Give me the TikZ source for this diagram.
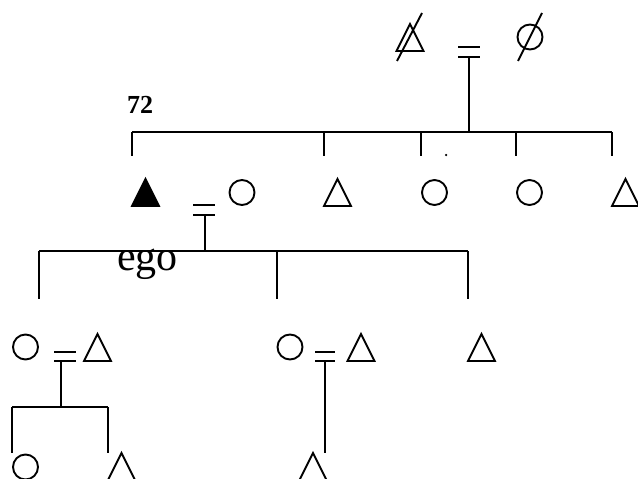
\documentclass[tikz,border=0pt]{standalone}
\usepackage{fontspec}
\setmainfont{Liberation Serif}
\begin{document}
\begin{tikzpicture}[x=1pt,y=-1pt,line width=1.9pt,
  trinode/.style={rectangle,inner sep=0pt,minimum width=25pt,minimum height=25pt},
  circnode/.style={circle,draw,inner sep=0pt,minimum size=25pt},
  link/.style={line width=1.9pt}]
\useasboundingbox (0,0) rectangle (638,479);

% ---- generation 0 (deceased parents)
\node[trinode] (gf) at (410,37.5) {};
\node[circnode] (gm) at (530,37) {};
\draw[link] (gf.center) ++(-13,23.5) -- ++(25,-48);
\draw[link] (gm.center) ++(-12,24) -- ++(24,-48);
\coordinate (m0) at (469,52);
\draw[link] (m0) ++(-11,-5) -- ++(22,0);
\draw[link] (m0) ++(-11,5) -- ++(22,0);
\coordinate (bar0) at (469,132);
\draw[link] (m0) ++(0,5) -- (bar0);

% ---- generation 1
\node[trinode] (a1) at (145.5,192.5) {};
\node[circnode] (a2) at (242,192.5) {};
\node[trinode] (a3) at (337.5,192.5) {};
\node[circnode] (a4) at (434.5,192.5) {};
\node[circnode] (a5) at (529.5,192.5) {};
\node[trinode] (a6) at (625.5,192.5) {};
\draw[link] (bar0 -| a1.west) -- (bar0 -| a6.west);
\foreach \n in {a1,a3,a4,a5,a6} \draw[link] (bar0 -| \n.west) -- ++(0,24);
\node[circle,fill,inner sep=0pt,minimum size=2.5pt] (dot) at (446,155) {};
\node[font=\bfseries\fontsize{26}{30}\selectfont,anchor=base,inner sep=0pt] (n72) at (140,113) {72};

% ego marriage
\coordinate (m1) at (205,210);
\draw[link] (m1) ++(-12,-5) -- ++(22,0);
\draw[link] (m1) ++(-12,5) -- ++(22,0);
\coordinate (bar1) at (205,251);
\draw[link] (m1) ++(0,5) -- (bar1);

% ---- generation 2
\node[circnode] (c1) at (25.5,347) {};
\node[trinode] (c2) at (97.5,347.5) {};
\node[circnode] (c4) at (290,347) {};
\node[trinode] (c5) at (361,347.5) {};
\node[trinode] (c6) at (481.5,347.5) {};
\draw[link] (bar1 -| c1.east) -- (bar1 -| c6.west);
\foreach \n in {c1.east,c4.west,c6.west} \draw[link] (bar1 -| \n) -- ++(0,48);
\node[font=\fontsize{42}{48}\selectfont,anchor=base,inner sep=0pt] (ego) at (147.5,270) {ego};

% couple 1
\coordinate (m2) at (65,356.5);
\draw[link] (m2) ++(-11,-4.5) -- ++(22,0);
\draw[link] (m2) ++(-11,4.5) -- ++(22,0);
\coordinate (bar2) at (61,407);
\draw[link] (m2 -| bar2) ++(0,4.5) -- (bar2);

% couple 2
\coordinate (m3) at (325,356.5);
\draw[link] (m3) ++(-10,-4.5) -- ++(20,0);
\draw[link] (m3) ++(-10,4.5) -- ++(20,0);

% ---- generation 3
\node[circnode] (g1) at (25.5,467) {};
\node[trinode] (g2) at (121.5,466.5) {};
\node[trinode] (g3) at (313,466.5) {};
\draw[link] (bar2 -| g1.west) -- (bar2 -| g2.west);
\foreach \n in {g1,g2} \draw[link] (bar2 -| \n.west) -- ++(0,46);
\draw[link] (m3) ++(0,4.5) -- (m3 |- g3.north);

% triangles
\foreach \n in {gf,a3,a6,c2,c5,c6,g2,g3}
  \draw[line join=miter] (\n.north) -- (\n.south west) -- (\n.south east) -- cycle;
\filldraw[line join=miter] (a1.north) -- (a1.south west) -- (a1.south east) -- cycle;
\end{tikzpicture}
\end{document}
